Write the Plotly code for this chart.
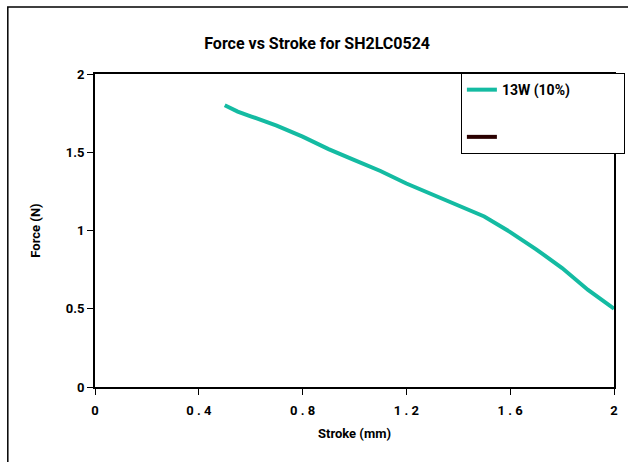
import plotly.graph_objects as go

stroke_mm = [0.5, 0.55, 0.6, 0.7, 0.8, 0.9, 1.0, 1.1, 1.2, 1.3, 1.4, 1.5, 1.6, 1.7, 1.8, 1.9, 2.0]
force_13w = [1.80, 1.76, 1.73, 1.67, 1.60, 1.52, 1.45, 1.38, 1.30, 1.23, 1.155, 1.09, 0.99, 0.88, 0.76, 0.62, 0.50]
series_names = ["13W (10%)", ""]
series_colors = ["#14BBA2", "#2A0000"]
x_ticks = [0, 0.4, 0.8, 1.2, 1.6, 2]
y_ticks = [0, 0.5, 1, 1.5, 2]

FONT = "Roboto, sans-serif"
PAD = "\u00a0" * 14

fig = go.Figure()
fig.add_trace(go.Scatter(x=stroke_mm, y=force_13w, mode="lines", name=series_names[0] + PAD,
                         line=dict(color=series_colors[0], width=4), legendgroup="a"))
fig.add_trace(go.Scatter(x=[None], y=[None], mode="lines", name=series_names[1] + PAD,
                         line=dict(color=series_colors[1], width=4), legendgroup="b"))

axis_common = dict(showgrid=False, zeroline=False, showline=True, linecolor="black", linewidth=2,
                   mirror=True, ticks="outside", ticklen=6, tickcolor="black", tickwidth=1,
                   tickfont=dict(family=FONT, size=13, color="black", weight="bold"))

fig.update_xaxes(range=[0, 2], tickvals=x_ticks, ticktext=["0", "0 . 4", "0 . 8", "1 . 2", "1 . 6", "2"],
                 ticklabelstandoff=4,
                 title=dict(text="Stroke (mm)", font=dict(family=FONT, size=13, color="black", weight="bold"),
                            standoff=12),
                 **axis_common)
fig.update_yaxes(range=[0, 2], tickvals=y_ticks, ticktext=["0", "0.5", "1", "1.5", "2"],
                 title=dict(text="Force (N)", font=dict(family=FONT, size=13, color="black", weight="bold"),
                            standoff=22),
                 **axis_common)

fig.update_layout(
    width=628, height=462,
    margin=dict(l=95, r=14, t=74, b=75, autoexpand=False),
    paper_bgcolor="white", plot_bgcolor="white",
    title=dict(text="Force vs Stroke for SH2LC0524", x=0.505, xanchor="center", y=0.905, yanchor="middle",
               font=dict(family=FONT, size=16, color="black", weight="bold")),
    showlegend=True,
    legend=dict(x=0.705, y=1.003, xanchor="left", yanchor="top", bgcolor="white",
                bordercolor="black", borderwidth=1, tracegroupgap=26, traceorder="grouped",
                font=dict(family=FONT, size=14, color="black", weight="bold")),
    shapes=[dict(type="rect", xref="paper", yref="paper", x0=-0.168, x1=1.4, y0=-0.5, y1=1.214,
                 line=dict(color="black", width=1.5), layer="below")],
)

fig.write_html("out.html")
